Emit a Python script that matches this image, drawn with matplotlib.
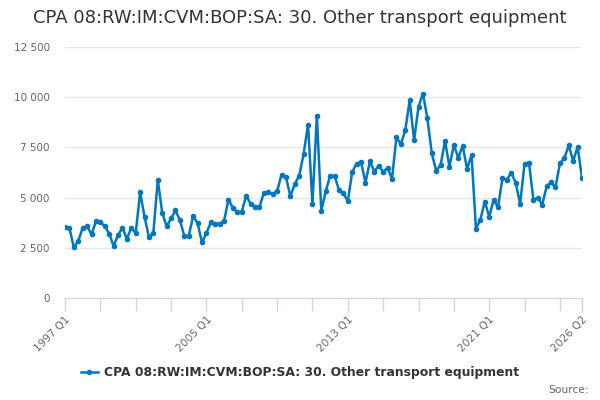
import matplotlib
matplotlib.use("Agg")
import matplotlib.pyplot as plt

# quarterly values, 1997 Q1 .. 2026 Q2
values = [
    3546, 3485, 2517, 2828, 3504, 3568, 3174, 3815,
    3781, 3568, 3208, 2596, 3124, 3504, 2942, 3504,
    3223, 5262, 4047, 3026, 3258, 5888, 4245, 3568,
    3963, 4358, 3880, 3090, 3090, 4077, 3731, 2764,
    3238, 3766, 3702, 3702, 3850, 4901, 4492, 4274,
    4294, 5099, 4689, 4556, 4521, 5232, 5262, 5197,
    5311, 6150, 6037, 5064, 5680, 6080, 7170, 8638,
    4689, 9082, 4324, 5311, 6086, 6086, 5380, 5212,
    4817, 6283, 6693, 6777, 5740, 6812, 6298, 6594,
    6269, 6496, 5923, 8011, 7665, 8342, 9852, 7848,
    9526, 10183, 8964, 7221, 6333, 6629, 7814, 6545,
    7616, 6989, 7582, 6417, 7137, 3455, 3899, 4803,
    4047, 4886, 4521, 5972, 5888, 6249, 5726, 4689,
    6693, 6742, 4901, 4985, 4654, 5558, 5755, 5508,
    6713, 6960, 7601, 6826, 7532, 5972,
]
periods = ["%d Q%d" % (1997 + i // 4, i % 4 + 1) for i in range(len(values))]
label_idx = [0, 32, 64, 96, len(values) - 1]
yticks = [0, 2500, 5000, 7500, 10000, 12500]
series_name = "CPA 08:RW:IM:CVM:BOP:SA: 30. Other transport equipment"

plt.rcParams["font.family"] = "DejaVu Sans"
fig = plt.figure(figsize=(6, 4), dpi=100)
ax = fig.add_axes([65 / 600, 102 / 400, 517 / 600, 251 / 400])

x = list(range(len(values)))
ax.plot(x, values, color="#0077be", linewidth=1.8, marker="o", markersize=3,
        label=series_name, zorder=3)

ax.set_xlim(0, len(values) - 1)
ax.set_ylim(0, 12500)
ax.set_yticks(yticks)
ax.set_yticklabels(["{:,}".format(v).replace(",", " ") for v in yticks],
                   color="#666666", fontsize=7.5)
ax.yaxis.grid(True, color="#e6e6e6", linewidth=1)
ax.set_axisbelow(True)
ax.tick_params(axis="y", length=0, pad=11)

minor = list(range(0, len(values), 8)) + [len(values) - 1]
ax.set_xticks(minor, minor=True)
ax.set_xticks(label_idx)
ax.set_xticklabels([periods[i] for i in label_idx], rotation=45, ha="right",
                   rotation_mode="anchor", color="#666666", fontsize=7.7)
ax.tick_params(axis="x", which="both", length=9, color="#ccd6eb", width=1, pad=3)

for s in ["top", "right", "left"]:
    ax.spines[s].set_visible(False)
ax.spines["bottom"].set_color("#ccd6eb")

fig.text(0.5, 0.955, series_name, ha="center", va="center", fontsize=13,
         color="#333333")
leg = fig.legend(loc="center", bbox_to_anchor=(0.5, 0.068), frameon=False,
                 prop={"weight": "bold", "size": 8.9}, handlelength=1.4,
                 handletextpad=0.5)
for t in leg.get_texts():
    t.set_color("#333333")
fig.text(0.982, 0.025, "Source:", ha="right", va="center", fontsize=7.7,
         color="#666666")

fig.savefig("out.png", dpi=100)
